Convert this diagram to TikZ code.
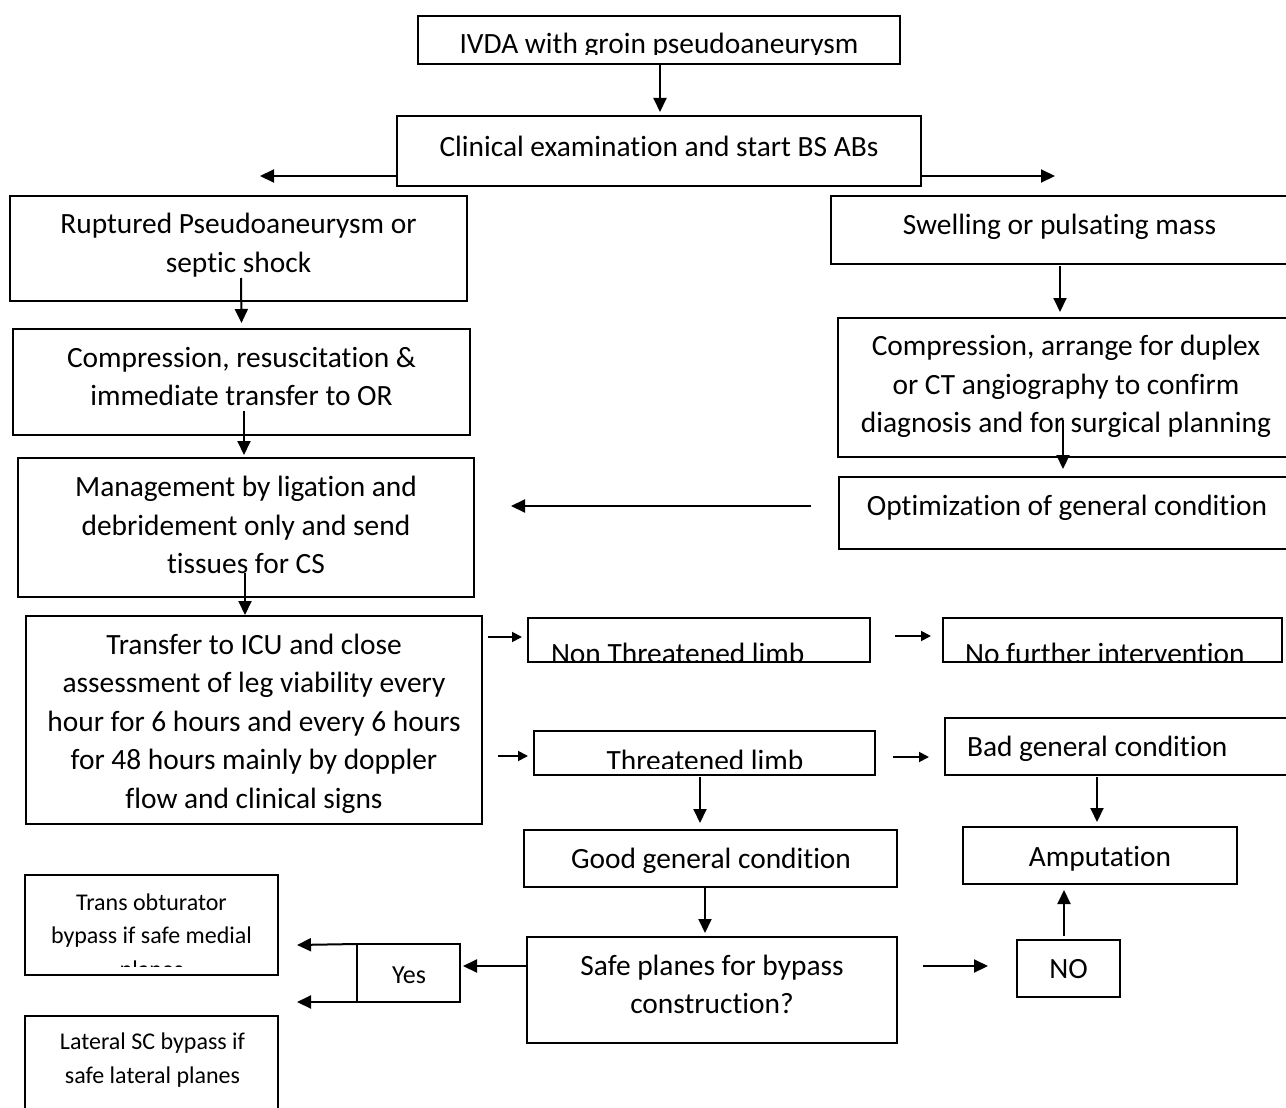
\documentclass[tikz,border=0pt]{standalone}
\usepackage{fontspec}
\setmainfont{Carlito}[Ligatures=NoCommon]
\usetikzlibrary{arrows.meta,calc}
\tikzset{
 box/.style={draw=black, line width=2pt, inner sep=0pt, outer sep=0pt, rectangle},
 txt/.style={inner sep=0pt, outer sep=0pt, align=center, anchor=base, font=\fontsize{29.4}{38.5}\selectfont},
 smalltxt/.style={txt, font=\fontsize{24}{33.5}\selectfont},
 arr/.style={line width=2pt, -{Triangle[length=14pt,width=13pt]}},
 sarr/.style={line width=1.8pt, -{Triangle[length=10pt,width=10pt]}},
}
\newcommand\bx[5]{\node[box, minimum width={(#4-#2)*1pt}, minimum height={(#5-#3)*1pt}] (#1) at ({(#2+#4)/2},{(#3+#5)/2}) {};}
\begin{document}
\begin{tikzpicture}[x=1pt,y=-1pt]
\clip (0,0) rectangle (1286,1108);
\fill[white] (0,0) rectangle (1286,1108);
% boxes
\bx{ivda}{418}{16}{900}{64}
\bx{clin}{397}{116}{921}{186}
\bx{rupt}{10}{196}{467}{301}
\bx{compl}{13}{329}{470}{435}
\bx{mgmt}{18}{458}{474}{597}
\bx{icu}{26}{616}{482}{824}
\bx{swell}{831}{196}{1290}{264}
\bx{compr}{838}{318}{1294}{457}
\bx{optim}{839}{477}{1295}{549}
\bx{nonthr}{528}{618}{870}{662}
\bx{nofur}{943}{618}{1282}{662}
\bx{thr}{534}{731}{875}{775}
\bx{bad}{945}{718}{1292}{775}
\bx{good}{524}{830}{897}{887}
\bx{amput}{963}{827}{1237}{884}
\bx{safe}{527}{937}{897}{1043}
\bx{yes}{357}{944}{460}{1002}
\bx{no}{1017}{940}{1120}{997}
\bx{trans}{25}{875}{278}{975}
\bx{lat}{25}{1016}{278}{1130}
% texts (anchor base = baseline of the last line)
\begin{scope}
\clip (418,16) rectangle (900,54.5);
\node[txt] (ivdat) at (659,54) {IVDA with groin pseudoaneurysm};
\end{scope}
\node[txt] (clint) at (659,156.5) {Clinical examination and start BS ABs};
\node[txt] (ruptt) at (238.5,272) {Ruptured Pseudoaneurysm or\\septic shock};
\node[txt] (complt) at (241.5,405.5) {Compression, resuscitation \&\\immediate transfer to OR};
\node[txt] (mgmtt) at (246,573.5) {Management by ligation and\\debridement only and send\\tissues for CS};
\node[txt] (icut) at (254,808) {Transfer to ICU and close\\assessment of leg viability every\\hour for 6 hours and every 6 hours\\for 48 hours mainly by doppler\\flow and clinical signs};
\node[txt] (swellt) at (1059.5,234) {Swelling or pulsating mass};
\node[txt] (comprt) at (1066,432.5) {Compression, arrange for duplex\\or CT angiography to confirm\\diagnosis and for surgical planning};
\node[txt] (optimt) at (1067,515.5) {Optimization of general condition};
\begin{scope}
\clip (528,618) rectangle (870,660);
\node[txt,anchor=base west] (nonthrt) at (551,663) {Non Threatened limb};
\end{scope}
\begin{scope}
\clip (943,618) rectangle (1282,660);
\node[txt,anchor=base west] (nofurt) at (965,663) {No further intervention};
\end{scope}
\begin{scope}
\clip (534,731) rectangle (875,768);
\node[txt] (thrt) at (705,770) {Threatened limb};
\end{scope}
\node[txt,anchor=base west] (badt) at (967,756.5) {Bad general condition};
\node[txt] (goodt) at (711,868) {Good general condition};
\node[txt] (safet) at (712,1013.5) {Safe planes for bypass\\construction?};
\node[txt] (amputt) at (1100,866) {Amputation};
\node[txt] (not) at (1068.5,978) {NO};
\node[txt,font=\fontsize{26}{33}\selectfont] (yest) at (409,983) {Yes};
\begin{scope}
\clip (25,875) rectangle (278,966);
\node[smalltxt] (transt) at (151.5,977) {Trans obturator\\bypass if safe medial\\planes};
\end{scope}
\node[smalltxt] (latt) at (152.5,1083) {Lateral SC bypass if\\safe lateral planes};
% connectors
\coordinate (lfree) at (260,176);
\coordinate (rfree) at (1055,176);
\draw[arr] ([xshift=1pt]ivda.south) -- ([xshift=1pt,yshift=4pt]clin.north);
\draw[arr] (clin.west |- lfree) -- (lfree);
\draw[arr] (clin.east |- rfree) -- (rfree);
\draw[arr] ([xshift=2.5pt,yshift=23pt]rupt.south) -- ([xshift=0pt,yshift=6pt]compl.north);
\draw[arr] ([xshift=2.5pt,yshift=24pt]compl.south) -- ([xshift=-2pt,yshift=3pt]mgmt.north);
\draw[arr] ([xshift=-1pt,yshift=24pt]mgmt.south) -- ([xshift=-9pt,yshift=1pt]icu.north);
\draw[arr] ([xshift=-0.5pt,yshift=-2pt]swell.south) -- ([xshift=-6pt,yshift=6pt]compr.north);
\draw[arr] ([xshift=-3pt,yshift=37pt]compr.south) -- ([xshift=-4pt,yshift=8pt]optim.north);
\draw[arr] ([xshift=-28pt,yshift=7pt]optim.west) -- ([xshift=37pt,yshift=21.5pt]mgmt.east);
\draw[sarr] ([xshift=6pt,yshift=83pt]icu.east) -- ([xshift=-6pt,yshift=3pt]nonthr.west);
\draw[sarr] ([xshift=16pt,yshift=-36pt]icu.east) -- ([xshift=-6pt,yshift=-3pt]thr.west);
\draw[sarr] ([xshift=25pt,yshift=4pt]nonthr.east) -- ([xshift=-12pt,yshift=4pt]nofur.west);
\draw[sarr] ([xshift=18pt,yshift=-4pt]thr.east) -- ([xshift=-16pt,yshift=-10.5pt]bad.west);
\draw[arr] ([xshift=-4.5pt,yshift=-2pt]thr.south) -- ([xshift=-10.5pt,yshift=7pt]good.north);
\draw[arr] ([xshift=-5.5pt]good.south) -- ([xshift=-7pt,yshift=4pt]safe.north);
\draw[arr] ([yshift=24pt]safe.west) -- ([xshift=3pt,yshift=7pt]yes.east);
\draw[arr] (yes.north west) -- ([xshift=19pt,yshift=-20pt]trans.east);
\draw[arr] (yes.south west) -- ([xshift=19pt,yshift=14pt]lat.north east);
\draw[arr] ([xshift=26pt,yshift=24pt]safe.east) -- ([xshift=-29pt,yshift=2.5pt]no.west);
\draw[arr] ([xshift=-4.5pt,yshift=4pt]no.north) -- ([xshift=-36pt,yshift=-6pt]amput.south);
\draw[arr] ([xshift=-21.5pt,yshift=-2pt]bad.south) -- ([xshift=-3pt,yshift=5pt]amput.north);
\end{tikzpicture}
\end{document}
